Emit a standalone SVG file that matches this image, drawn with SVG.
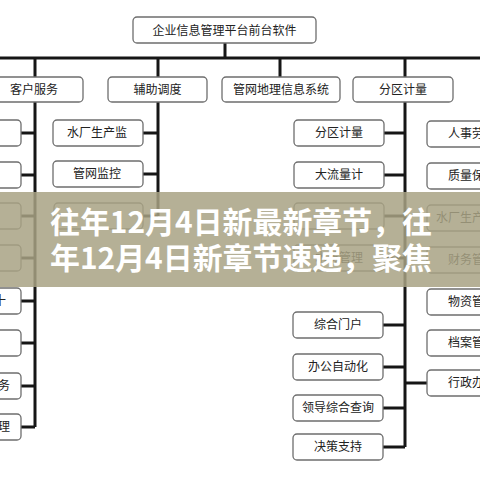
<svg xmlns="http://www.w3.org/2000/svg" width="480" height="480" viewBox="0 0 480 480">
<style>
.box{fill:#fff;stroke:#6e6e6e;stroke-width:1.3}
.t{font-family:"Noto Sans CJK SC","Noto Sans",sans-serif;font-size:12px;fill:#222;text-anchor:middle}
.tl{font-family:"Noto Sans CJK SC","Noto Sans",sans-serif;font-size:12px;fill:#222;text-anchor:start}
.te{font-family:"Noto Sans CJK SC","Noto Sans",sans-serif;font-size:12px;fill:#222;text-anchor:end}
.c{fill:none;stroke:#161616;stroke-width:3}
.title{font-family:"Noto Sans CJK SC","Noto Sans",sans-serif;font-size:30px;font-weight:700;fill:#fff}
</style>
<rect width="480" height="480" fill="#fff"/>
<g id="connectors" class="c">
<path d="M225 43V58M0 58H480"/>
<path d="M35 58V77M158 58V77M280 58V77M405 58V77"/>
<path d="M35 102V427M21 133H35M21 175H35M21 216H35M21 258H35M21 301H35M21 343H35M21 386H35M21 427H35"/>
<path d="M158 102V216M143 133H158M143 174H158M143 216H158"/>
<path d="M405 102V447M384 133H405M384 175H405M384 216H405M384 258H405M383 325H405M383 367H405M383 408H405M383 447H405M405 383H427"/>
</g>
<g id="n-root"><rect class="box" x="133" y="17" width="183" height="26" rx="4"/><text class="t" x="224.5" y="34.5">企业信息管理平台前台软件</text></g>
<g id="n-kehu"><rect class="box" x="-15" y="77" width="98" height="25" rx="4"/><text class="t" x="34" y="94">客户服务</text></g>
<g id="n-fuzhu"><rect class="box" x="108" y="77" width="99" height="25" rx="4"/><text class="t" x="157.5" y="94">辅助调度</text></g>
<g id="n-guanwang"><rect class="box" x="222" y="77" width="118" height="25" rx="4"/><text class="t" x="281" y="94">管网地理信息系统</text></g>
<g id="n-fenqu"><rect class="box" x="353" y="77" width="100" height="25" rx="4"/><text class="t" x="403" y="94">分区计量</text></g>
<g id="n-l1"><rect class="box" x="-70" y="120" width="91" height="26" rx="4"/></g>
<g id="n-l2"><rect class="box" x="-70" y="162" width="91" height="26" rx="4"/></g>
<g id="n-l3"><rect class="box" x="-70" y="203" width="91" height="26" rx="4"/></g>
<g id="n-l4"><rect class="box" x="-70" y="245" width="91" height="26" rx="4"/></g>
<g id="n-l5"><rect class="box" x="-70" y="288" width="91" height="26" rx="4"/><text class="te" x="6" y="305">十</text></g>
<g id="n-l6"><rect class="box" x="-70" y="330" width="91" height="26" rx="4"/><text class="te" x="5" y="347">。</text></g>
<g id="n-l7"><rect class="box" x="-70" y="373" width="91" height="26" rx="4"/><text class="te" x="10" y="390">业务</text></g>
<g id="n-l8"><rect class="box" x="-70" y="414" width="91" height="26" rx="4"/><text class="te" x="10" y="431">管理</text></g>
<g id="n-m1"><rect class="box" x="53" y="120" width="90" height="26" rx="4"/><text class="t" x="97" y="137">水厂生产监</text></g>
<g id="n-m2"><rect class="box" x="53" y="161" width="90" height="26" rx="4"/><text class="t" x="97" y="178">管网监控</text></g>
<g id="n-m3"><rect class="box" x="54" y="203" width="89" height="26" rx="4"/></g>
<g id="n-c1"><rect class="box" x="294" y="120" width="90" height="26" rx="4"/><text class="t" x="339" y="137">分区计量</text></g>
<g id="n-c2"><rect class="box" x="294" y="162" width="90" height="26" rx="4"/><text class="t" x="339" y="179">大流量计</text></g>
<g id="n-c3"><rect class="box" x="294" y="203" width="90" height="26" rx="4"/></g>
<g id="n-c4"><rect class="box" x="294" y="245" width="90" height="26" rx="4"/><text class="t" x="339" y="262">水质管理</text></g>
<g id="n-c5"><rect class="box" x="293" y="312" width="90" height="26" rx="4"/><text class="t" x="338" y="329">综合门户</text></g>
<g id="n-c6"><rect class="box" x="293" y="354" width="90" height="26" rx="4"/><text class="t" x="338" y="371">办公自动化</text></g>
<g id="n-c7"><rect class="box" x="293" y="395" width="90" height="26" rx="4"/><text class="t" x="338" y="412">领导综合查询</text></g>
<g id="n-c8"><rect class="box" x="293" y="434" width="90" height="26" rx="4"/><text class="t" x="338" y="451">决策支持</text></g>
<g id="n-r1"><rect class="box" x="427" y="121" width="90" height="26" rx="4"/><text class="t" x="472" y="138">人事劳资</text></g>
<g id="n-r2"><rect class="box" x="427" y="163" width="90" height="26" rx="4"/><text class="t" x="472" y="180">质量保证</text></g>
<g id="n-r3"><rect class="box" x="427" y="205" width="90" height="26" rx="4"/><text class="t" x="472" y="222">水厂生产管理</text></g>
<g id="n-r4"><rect class="box" x="427" y="247" width="90" height="26" rx="4"/><text class="t" x="472" y="264">财务管理</text></g>
<g id="n-r5"><rect class="box" x="427" y="289" width="90" height="26" rx="4"/><text class="t" x="472" y="306">物资管理</text></g>
<g id="n-r6"><rect class="box" x="427" y="330" width="90" height="26" rx="4"/><text class="t" x="472" y="347">档案管理</text></g>
<g id="n-r7"><rect class="box" x="427" y="370" width="90" height="26" rx="4"/><text class="t" x="472" y="387">行政办公</text></g>
<rect x="0" y="192" width="480" height="95" fill="#a8a284" fill-opacity="0.85"/>
<text class="title" x="50" y="233" textLength="382" lengthAdjust="spacingAndGlyphs">往年12月4日新最新章节，往</text>
<text class="title" x="50" y="269" textLength="382" lengthAdjust="spacingAndGlyphs">年12月4日新章节速递，聚焦</text>
</svg>
